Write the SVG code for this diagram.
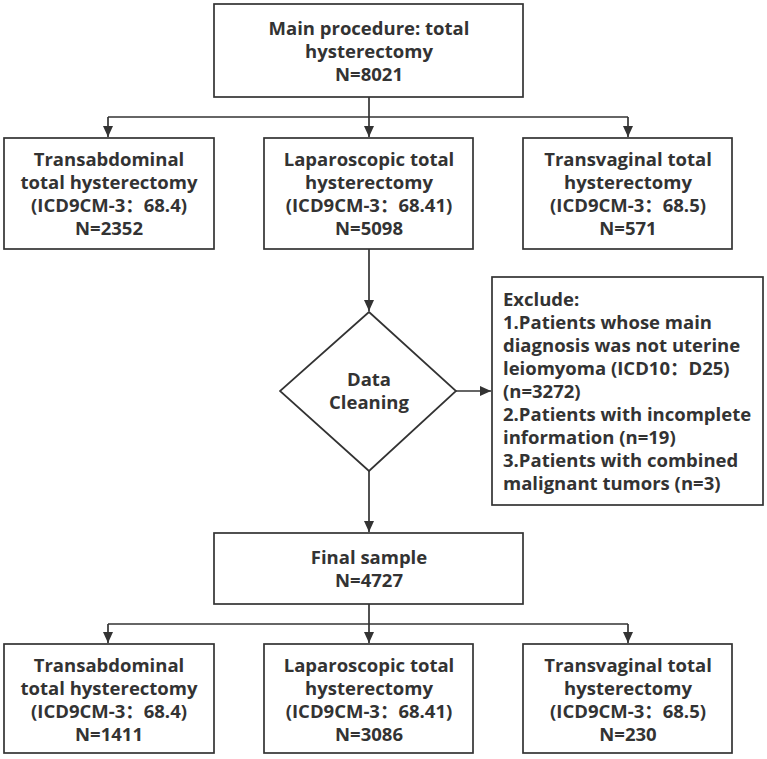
<svg xmlns="http://www.w3.org/2000/svg" width="767" height="759" viewBox="0 0 767 759">
<style>
.box{fill:#fff;stroke:#333;stroke-width:1.7}
.t{font-family:"Open Sans","Noto Sans CJK SC",sans-serif;font-weight:bold;font-size:18.5px;fill:#333;text-anchor:middle}
.l{text-anchor:start}
.c{fill:none;stroke:#333;stroke-width:1.7}
</style>
<defs>
<marker id="ah" markerWidth="11" markerHeight="11" refX="11" refY="5.5" orient="auto" markerUnits="userSpaceOnUse"><path d="M0,0.5 L11,5.5 L0,10.5 Z" fill="#333"/></marker>
</defs>
<rect width="767" height="759" fill="#fff"/>
<g id="connectors">
<path class="c" d="M369,97 V117"/>
<path class="c" d="M108,117 H628"/>
<path class="c" d="M108,117 V137" marker-end="url(#ah)"/>
<path class="c" d="M369,117 V137" marker-end="url(#ah)"/>
<path class="c" d="M628,117 V137" marker-end="url(#ah)"/>
<path class="c" d="M369,249 V311" marker-end="url(#ah)"/>
<path class="c" d="M456,391 H491" marker-end="url(#ah)"/>
<path class="c" d="M369,471 V532" marker-end="url(#ah)"/>
<path class="c" d="M369,604 V624"/>
<path class="c" d="M108,624 H628"/>
<path class="c" d="M108,624 V643" marker-end="url(#ah)"/>
<path class="c" d="M369,624 V643" marker-end="url(#ah)"/>
<path class="c" d="M628,624 V643" marker-end="url(#ah)"/>
</g>
<g id="main">
<rect class="box" x="214" y="4" width="309" height="93"/>
<text class="t" x="369" y="35">Main procedure: total</text>
<text class="t" x="369" y="58">hysterectomy</text>
<text class="t" x="369" y="81">N=8021</text>
</g>
<g id="tah1">
<rect class="box" x="4" y="138" width="210" height="111"/>
<text class="t" x="109" y="166">Transabdominal</text>
<text class="t" x="109" y="189">total hysterectomy</text>
<text class="t" x="109" y="212">(ICD9CM-3：68.4)</text>
<text class="t" x="109" y="235">N=2352</text>
</g>
<g id="lth1">
<rect class="box" x="264" y="138" width="209" height="111"/>
<text class="t" x="369" y="166">Laparoscopic total</text>
<text class="t" x="369" y="189">hysterectomy</text>
<text class="t" x="369" y="212">(ICD9CM-3：68.41)</text>
<text class="t" x="369" y="235">N=5098</text>
</g>
<g id="tvh1">
<rect class="box" x="523" y="138" width="209" height="111"/>
<text class="t" x="628" y="166">Transvaginal total</text>
<text class="t" x="628" y="189">hysterectomy</text>
<text class="t" x="628" y="212">(ICD9CM-3：68.5)</text>
<text class="t" x="628" y="235">N=571</text>
</g>
<g id="cleaning">
<polygon class="box" points="369,312 456,391 369,471 280,391"/>
<text class="t" x="369" y="386">Data</text>
<text class="t" x="369" y="409">Cleaning</text>
</g>
<g id="exclude">
<rect class="box" x="492" y="277" width="271" height="228"/>
<text class="t l" x="503" y="306">Exclude:</text>
<text class="t l" x="503" y="329">1.Patients whose main</text>
<text class="t l" x="503" y="352">diagnosis was not uterine</text>
<text class="t l" x="503" y="375">leiomyoma (ICD10：D25)</text>
<text class="t l" x="503" y="398">(n=3272)</text>
<text class="t l" x="503" y="421">2.Patients with incomplete</text>
<text class="t l" x="503" y="444">information (n=19)</text>
<text class="t l" x="503" y="467">3.Patients with combined</text>
<text class="t l" x="503" y="490">malignant tumors (n=3)</text>
</g>
<g id="final">
<rect class="box" x="214" y="533" width="309" height="71"/>
<text class="t" x="369" y="564">Final sample</text>
<text class="t" x="369" y="587">N=4727</text>
</g>
<g id="tah2">
<rect class="box" x="4" y="644" width="210" height="109"/>
<text class="t" x="109" y="672">Transabdominal</text>
<text class="t" x="109" y="695">total hysterectomy</text>
<text class="t" x="109" y="718">(ICD9CM-3：68.4)</text>
<text class="t" x="109" y="741">N=1411</text>
</g>
<g id="lth2">
<rect class="box" x="264" y="644" width="209" height="109"/>
<text class="t" x="369" y="672">Laparoscopic total</text>
<text class="t" x="369" y="695">hysterectomy</text>
<text class="t" x="369" y="718">(ICD9CM-3：68.41)</text>
<text class="t" x="369" y="741">N=3086</text>
</g>
<g id="tvh2">
<rect class="box" x="523" y="644" width="209" height="109"/>
<text class="t" x="628" y="672">Transvaginal total</text>
<text class="t" x="628" y="695">hysterectomy</text>
<text class="t" x="628" y="718">(ICD9CM-3：68.5)</text>
<text class="t" x="628" y="741">N=230</text>
</g>
</svg>
